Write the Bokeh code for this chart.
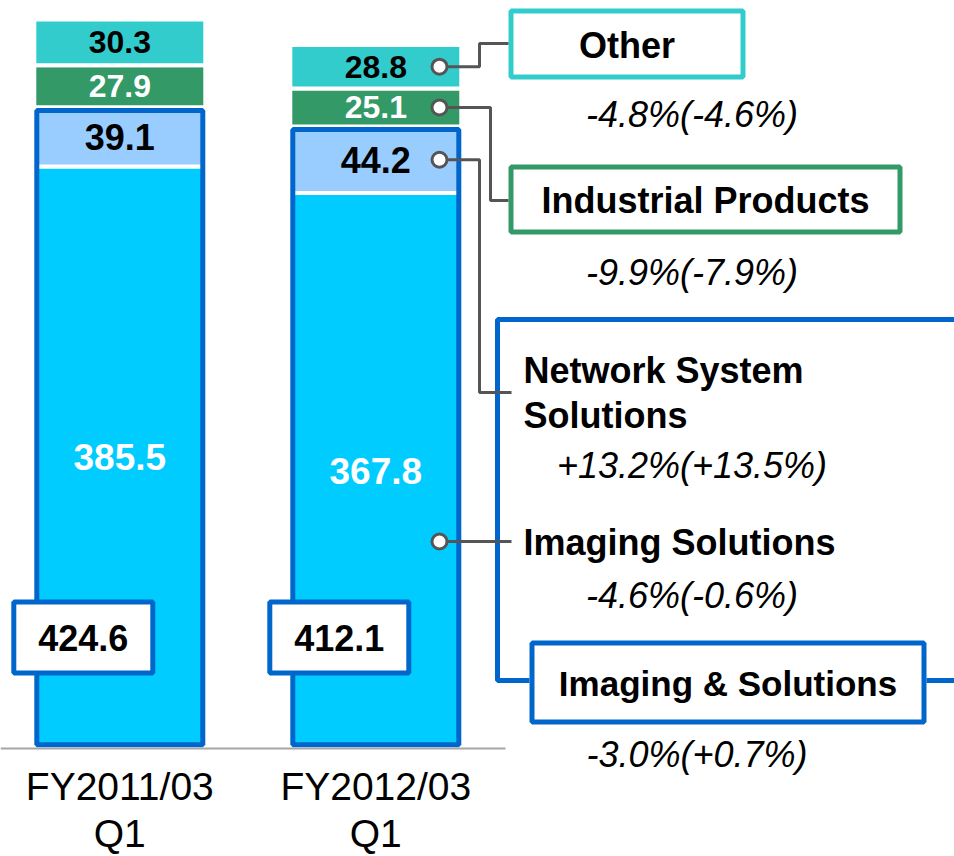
from bokeh.plotting import figure
from bokeh.models import Range1d
from bokeh.embed import file_html
from bokeh.resources import INLINE
from bokeh.core.properties import value

# ---- data (billion yen) ----
periods = ["FY2011/03\nQ1", "FY2012/03\nQ1"]
imaging = [385.5, 367.8]          # Imaging Solutions
network = [39.1, 44.2]            # Network System Solutions
industrial = [27.9, 25.1]         # Industrial Products
other = [30.3, 28.8]              # Other
imaging_solutions_total = [424.6, 412.1]   # Imaging & Solutions segment

seg_names = ["Other", "Industrial Products", "Network System\nSolutions", "Imaging Solutions"]
seg_growth = ["-4.8%(-4.6%)", "-9.9%(-7.9%)", "+13.2%(+13.5%)", "-4.6%(-0.6%)"]
group_name = "Imaging & Solutions"
group_growth = "-3.0%(+0.7%)"

# ---- colours ----
C_OTHER = "#33CCCC"
C_IND = "#339966"
C_NET = "#99CCFF"
C_IMG = "#00CCFF"
C_BLUE = "#0066CC"
C_LINK = "#555555"
C_BASE = "#A6A6A6"
FONT = value("Liberation Sans")

# ---- layout: pixel helpers ----
W, H = 954, 856
BASE_PX = 748          # pixel row of the zero line
X0, DX = 119.3, 256.0  # first bar centre, distance between bars (px)
SY = 1.51              # px per unit

def px(x):
    return (x - X0) / DX

def py(y):
    return (BASE_PX - y) / SY

p = figure(width=W, height=H, output_backend="svg", toolbar_location=None,
           x_range=Range1d(px(0), px(W)), y_range=Range1d(py(H), py(0)),
           x_axis_location=None, y_axis_location=None,
           min_border_left=0, min_border_right=0, min_border_top=0,
           min_border_bottom=0)
p.outline_line_color = None
p.grid.visible = False
p.background_fill_color = "white"
p.border_fill_color = "white"

xs = list(range(len(periods)))
bar_w = 171 / DX

# stacked segments, separated by white outlines
b0 = [0.0] * 2
b1 = [a + b for a, b in zip(imaging, b0)]
b2 = [a + b for a, b in zip(network, b1)]
b3 = [a + b for a, b in zip(industrial, b2)]
b4 = [a + b for a, b in zip(other, b3)]
for bottom, top, col in [(b0, b1, C_IMG), (b1, b2, C_NET), (b2, b3, C_IND), (b3, b4, C_OTHER)]:
    p.vbar(x=xs, bottom=bottom, top=top, width=bar_w, fill_color=col,
           line_color="white", line_width=4)

# frame around the Imaging & Solutions part of each bar
grp_top = b2
p.rect(x=xs, y=[(t + 0.6 / SY) / 2 for t in grp_top],
       width=[166] * 2, height=[t - 6.8 / SY for t in grp_top],
       width_units="screen", fill_color=None, line_color=C_BLUE, line_width=5)

# zero line
p.line(x=[px(0), px(505)], y=[0, 0], line_color=C_BASE, line_width=2)

# value labels inside segments
def seg_labels(bottom, top, color, size):
    p.text(x=xs, y=[(a + b) / 2 for a, b in zip(bottom, top)],
           text=[f"{t - b:.1f}" for b, t in zip(bottom, top)],
           text_align="center", text_baseline="middle", text_color=color,
           text_font=FONT, text_font_style="bold", text_font_size=size)

seg_labels(b0, b1, "white", "37px")
seg_labels(b1, b2, "black", "36px")
seg_labels(b2, b3, "white", "32px")
seg_labels(b3, b4, "black", "32px")

# Imaging & Solutions totals in boxes
tot_x = [x + (-36.5) / DX for x in xs]
p.rect(x=tot_x, y=[py(637)] * 2, width=139, height=71,
       width_units="screen", height_units="screen",
       fill_color="white", line_color=C_BLUE, line_width=5)
p.text(x=tot_x, y=[py(637)] * 2, text=[f"{v:.1f}" for v in imaging_solutions_total],
       text_align="center", text_baseline="middle", text_color="black",
       text_font=FONT, text_font_style="bold", text_font_size="36px")

# bracket for the Imaging & Solutions segment
p.line(x=[px(x) for x in [970, 497, 497, 529]], y=[py(y) for y in [319, 319, 680, 680]],
       line_color=C_BLUE, line_width=5)
p.line(x=[px(926), px(970)], y=[py(680)] * 2, line_color=C_BLUE, line_width=5)

# legend boxes
p.rect(x=[px(626.5)], y=[py(43.5)], width=232, height=66,
       width_units="screen", height_units="screen",
       fill_color="white", line_color=C_OTHER, line_width=5)
p.rect(x=[px(705)], y=[py(199)], width=389, height=65,
       width_units="screen", height_units="screen",
       fill_color="white", line_color=C_IND, line_width=5)
p.rect(x=[px(727.5)], y=[py(682)], width=392, height=79,
       width_units="screen", height_units="screen",
       fill_color="white", line_color=C_BLUE, line_width=5)

# leader lines from the second bar
dot_x = 1 + 63.7 / DX
mid_other = (b3[1] + b4[1]) / 2
mid_ind = (b2[1] + b3[1]) / 2
mid_net = (b1[1] + b2[1]) / 2
img_dot = py(541)
leads_x = [
    [dot_x, px(479), px(479), px(508)],
    [dot_x, px(490), px(490), px(508)],
    [dot_x, px(479), px(479), px(511)],
    [dot_x, px(511)],
]
leads_y = [
    [mid_other, mid_other, py(43), py(43)],
    [mid_ind, mid_ind, py(200), py(200)],
    [mid_net, mid_net, py(392), py(392)],
    [img_dot, img_dot],
]
p.multi_line(xs=leads_x, ys=leads_y, line_color=C_LINK, line_width=3)
p.scatter(x=[dot_x] * 4, y=[mid_other, mid_ind, mid_net, img_dot], marker="circle",
          size=15, fill_color="white", line_color=C_LINK, line_width=3)

# text helper; base is the text baseline in px
def label(x, base, txt, align="left", style="bold", size=36):
    p.text(x=[x], y=[py(base - 0.35 * size)], text=[txt], text_align=align,
           text_baseline="middle", text_color="black", text_font=FONT,
           text_font_style=style, text_font_size=f"{size}px")

label(px(626.5), 58, seg_names[0], align="center")
label(px(705), 213, seg_names[1], align="center")
net_lines = seg_names[2].split("\n")
label(px(523), 383, net_lines[0])
label(px(523), 428, net_lines[1])
label(px(523), 555, seg_names[3])
label(px(727.5), 695, group_name, align="center", size=35)

label(px(691.5), 127, seg_growth[0], align="center", style="italic")
label(px(691.5), 285, seg_growth[1], align="center", style="italic")
label(px(691.5), 478, seg_growth[2], align="center", style="italic")
label(px(691.5), 608, seg_growth[3], align="center", style="italic")
label(px(696.5), 767, group_growth, align="center", style="italic")

# period names under the bars
for x, name in zip(xs, periods):
    first, second = name.split("\n")
    label(x, 800, first, align="center", style="normal", size=39)
    label(x, 847, second, align="center", style="normal", size=39)

open("out.html", "w").write(file_html(p, INLINE))
